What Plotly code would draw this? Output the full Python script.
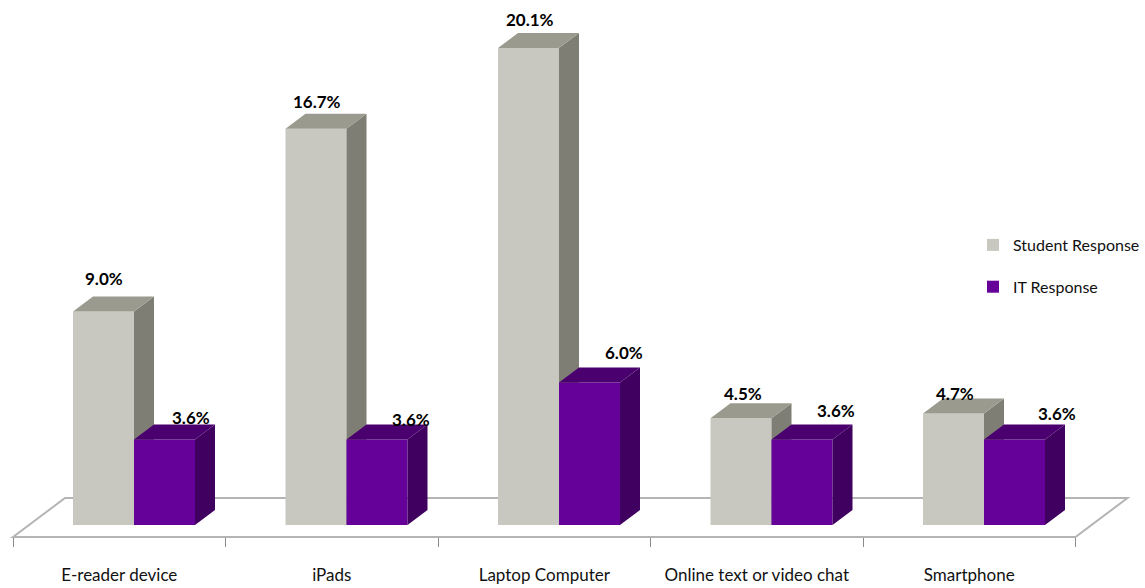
import plotly.graph_objects as go

categories = ["E-reader device", "iPads", "Laptop Computer", "Online text or video chat", "Smartphone"]
student = [9.0, 16.7, 20.1, 4.5, 4.7]
it_resp = [3.6, 3.6, 6.0, 3.6, 3.6]
series_names = ["Student Response", "IT Response"]

# label nudges in px relative to the top-centre of each front face
student_shift = [(0, 33), (1, 27), (1.5, 29), (1.5, 25), (1.5, 20)]
it_shift = [(26, 22), (34, 20), (34, 30), (34, 29), (42, 26)]

W, H = 1145, 588
PX_X = 212.5          # px per category
PX_Y = 23.73          # px per value unit
X0, Y0 = 119.25, 525  # px of category 0 / value 0
xr = [-X0 / PX_X, (W - X0) / PX_X]
yr = [(Y0 - H) / PX_Y, Y0 / PX_Y]
DX, DY = 20 / PX_X, 15 / PX_Y
BAR_W = 61 / PX_X
OFF_S, OFF_I = -15.75 / PX_X, 45.25 / PX_X
FONT = "Lato"


def faces(values, off):
    sx, sy, tx, ty = [], [], [], []
    for i, v in enumerate(values):
        l, r = i + off - BAR_W / 2, i + off + BAR_W / 2
        sx += [r, r + DX, r + DX, r, r, None]
        sy += [0, DY, v + DY, v, 0, None]
        tx += [l, l + DX, r + DX, r, l, None]
        ty += [v, v + DY, v + DY, v, v, None]
    return sx, sy, tx, ty


fig = go.Figure()
specs = [
    (student, OFF_S, series_names[0], "#c8c8c0", "#7e7e74", "#9a9a8e", "x", "y"),
    (it_resp, OFF_I, series_names[1], "#650099", "#3f005f", "#4a006f", "x2", "y2"),
]
for vals, off, name, front, side, top, xa, ya in specs:
    sx, sy, tx, ty = faces(vals, off)
    fig.add_trace(go.Bar(x=[i + off for i in range(len(vals))], y=vals, width=BAR_W, name=name,
                         marker=dict(color=front, line=dict(width=0)), xaxis=xa, yaxis=ya,
                         legendgroup=name))
    for fx, fy, col in ((sx, sy, side), (tx, ty, top)):
        fig.add_trace(go.Scatter(x=fx, y=fy, mode="lines", fill="toself", fillcolor=col,
                                 line=dict(width=0), showlegend=False, hoverinfo="skip",
                                 xaxis=xa, yaxis=ya))

# floor of the 3-D plot
fl = -12 / PX_Y   # front edge of the floor (px 537)
bk = 27 / PX_Y    # back edge of the floor (px 498)
lft, rgt = -0.5, 4.5
path = (f"M{lft},{fl} L{lft + 52 / PX_X},{bk} L{rgt + 52 / PX_X},{bk} L{rgt},{fl} Z")
fig.add_shape(type="path", path=path, xref="x", yref="y", layer="below",
              line=dict(color="#b4b4b4", width=2), fillcolor="#ffffff")

annots = []
for i, v in enumerate(student):
    annots.append(dict(x=i + OFF_S, y=v, text=f"{v:.1f}%", xref="x", yref="y", showarrow=False,
                       xshift=student_shift[i][0], yshift=student_shift[i][1],
                       font=dict(family=FONT, size=17, color="#000000", weight="bold")))
for i, v in enumerate(it_resp):
    annots.append(dict(x=i + OFF_I, y=v, text=f"{v:.1f}%", xref="x2", yref="y2", showarrow=False,
                       xshift=it_shift[i][0], yshift=it_shift[i][1],
                       font=dict(family=FONT, size=17, color="#000000", weight="bold")))

fig.update_layout(
    width=W, height=H, autosize=False,
    margin=dict(l=0, r=0, t=0, b=0, autoexpand=False),
    paper_bgcolor="#ffffff", plot_bgcolor="#ffffff",
    barmode="overlay",
    font=dict(family=FONT, size=17, color="#111111"),
    annotations=annots,
    legend=dict(x=973 / W, xanchor="left", y=1 - 228 / H, yanchor="top", tracegroupgap=18,
                bgcolor="rgba(0,0,0,0)", font=dict(family=FONT, size=16)),
    xaxis=dict(range=xr, domain=[0, 1], anchor="free", position=(H - 537) / H,
               tickmode="array", tickvals=list(range(len(categories))), ticktext=categories,
               ticks="", showgrid=False, zeroline=False, showline=False,
               ticklabelstandoff=26, tickfont=dict(family=FONT, size=17, color="#111111"),
               minor=dict(tick0=-0.5, dtick=1, ticks="outside", ticklen=9, tickwidth=1,
                          tickcolor="#8a8a8a", showgrid=False)),
    yaxis=dict(range=yr, domain=[0, 1], visible=False),
    xaxis2=dict(range=xr, overlaying="x", visible=False),
    yaxis2=dict(range=yr, overlaying="y", visible=False),
)
fig.write_html("out.html", config=dict(displayModeBar=False),
               post_script="document.body.style.margin='0';")
